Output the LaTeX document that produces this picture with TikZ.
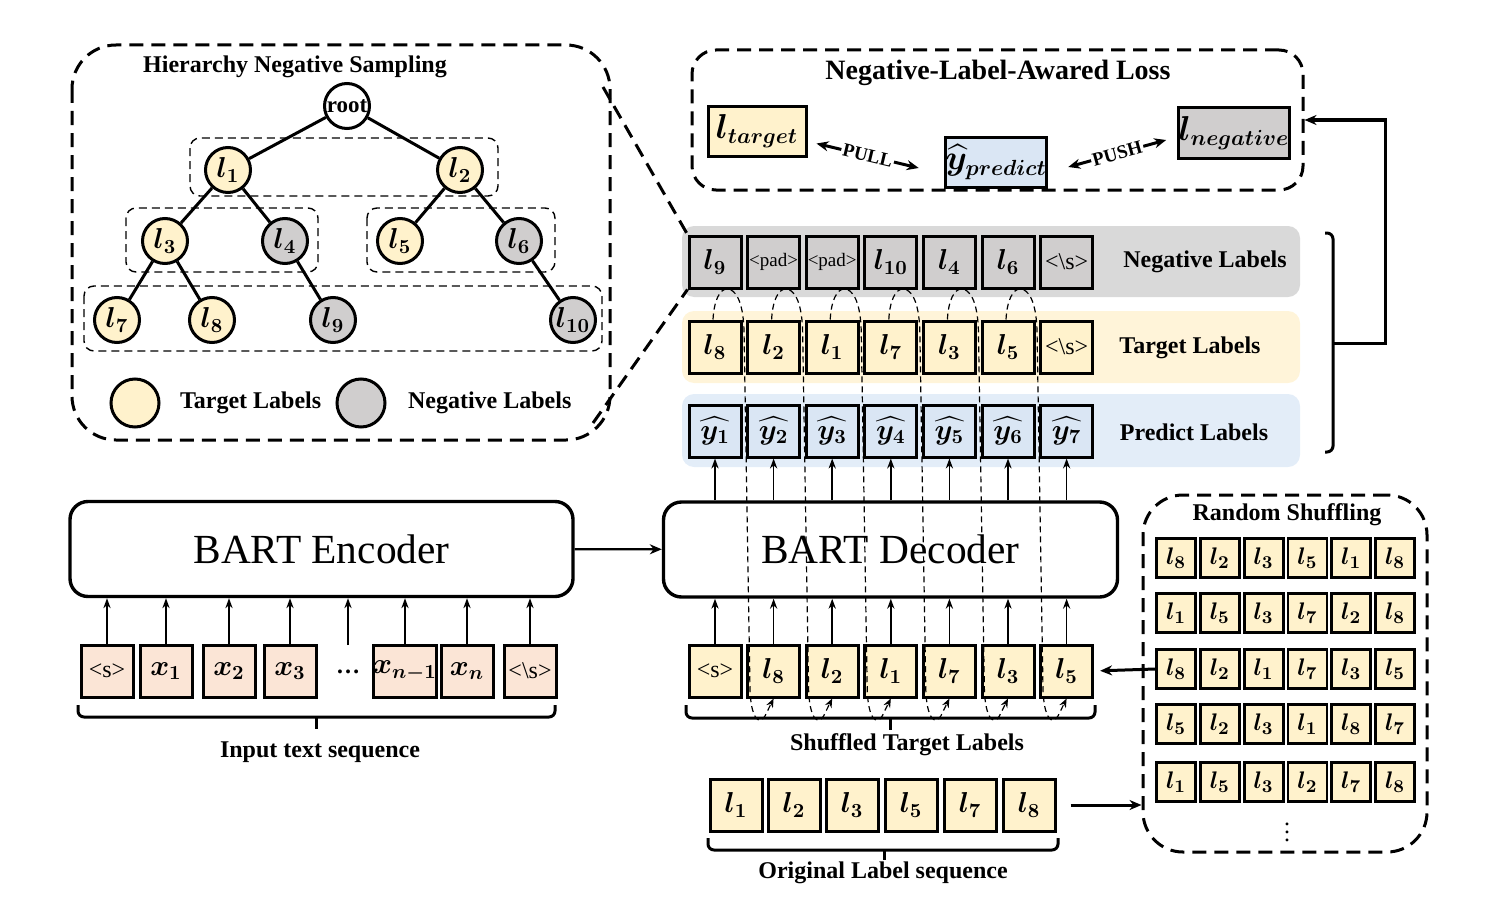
\documentclass[tikz,border=0pt]{standalone}
\usepackage{amsmath}
\usepackage{bm}
\usepackage{fontspec}
\setmainfont{Liberation Serif}
\usetikzlibrary{arrows.meta,calc}
\definecolor{tyel}{HTML}{FFF2CC}
\definecolor{tyelband}{HTML}{FFF4D9}
\definecolor{ngray}{HTML}{D0CECE}
\definecolor{ngrayband}{HTML}{D9D9D9}
\definecolor{pblue}{HTML}{DAE6F4}
\definecolor{pblueband}{HTML}{E3EDF8}
\definecolor{epink}{HTML}{FBE5D6}
\newcommand\lbl[1]{$\bm{l_{#1}}$}
\newcommand\yh[1]{$\widehat{\bm{y_{#1}}}$}
\newcommand\padt{{\fontsize{9.5}{11}\selectfont\textless pad\textgreater}}
\newcommand\eostok{{\fontsize{12}{14}\selectfont\textless\textbackslash s\textgreater}}
\newcommand\bostok{{\fontsize{12}{14}\selectfont\textless s\textgreater}}
\tikzset{
 lbox/.style={draw, line width=1.5pt, minimum width=26pt, minimum height=26pt, inner sep=0pt, font=\fontsize{14}{16}\selectfont},
 tbox/.style={lbox, fill=tyel},
 nbox/.style={lbox, fill=ngray},
 pbox/.style={lbox, fill=pblue},
 ebox/.style={lbox, fill=epink},
 sbox/.style={lbox, fill=tyel, line width=1.4pt, minimum width=19.5pt, minimum height=19.5pt, font=\fontsize{12.5}{14}\selectfont},
 tnode/.style={circle, draw, line width=1.5pt, minimum size=22.5pt, inner sep=0pt, font=\fontsize{14}{16}\selectfont},
 bigdash/.style={draw, line width=1.5pt, dash pattern=on 7pt off 4pt},
 grpdash/.style={draw, line width=0.7pt, dash pattern=on 4pt off 2.5pt, rounded corners=5pt},
 arcdash/.style={line width=0.6pt, dash pattern=on 3pt off 2pt},
 uparr/.style={-{Stealth[length=5pt,width=3.6pt]}, line width=0.8pt},
 lab/.style={font=\fontsize{12}{14}\selectfont\bfseries},
 coder/.style={draw, line width=1.7pt, rounded corners=9pt, font=\fontsize{20.7}{24}\selectfont},
 edge/.style={line width=1.5pt},
 brc/.style={line width=1.5pt, rounded corners=3pt},
}
\begin{document}
\begin{tikzpicture}[x=0.5pt,y=-0.5pt]
\useasboundingbox (0,0) rectangle (1508,904);

% ---------------- Hierarchy negative sampling ----------------
\draw[bigdash, rounded corners=22pt] (72,45) rectangle (610,440);
\node[lab] (htitle) at (295,67) {Hierarchy Negative Sampling};
\draw[grpdash] (190,138) rectangle (498,196);
\draw[grpdash] (126,208) rectangle (318,272);
\draw[grpdash] (367,208) rectangle (555,272);
\draw[grpdash] (84,286) rectangle (602,351);
\node[tnode, fill=white, font=\fontsize{11.5}{13}\selectfont\bfseries] (root) at (347,106) {root};
\node[tnode, fill=tyel] (a1) at (228,170) {\lbl{1}};
\node[tnode, fill=tyel] (a2) at (460,170) {\lbl{2}};
\node[tnode, fill=tyel] (a3) at (165,241) {\lbl{3}};
\node[tnode, fill=ngray] (a4) at (285,241) {\lbl{4}};
\node[tnode, fill=tyel] (a5) at (400,241) {\lbl{5}};
\node[tnode, fill=ngray] (a6) at (519,241) {\lbl{6}};
\node[tnode, fill=tyel] (a7) at (117,320) {\lbl{7}};
\node[tnode, fill=tyel] (a8) at (212,320) {\lbl{8}};
\node[tnode, fill=ngray] (a9) at (333,320) {\lbl{9}};
\node[tnode, fill=ngray] (a10) at (573,320) {\lbl{10}};
\draw[edge] (root) -- (a1);
\draw[edge] (root) -- (a2);
\draw[edge] (a1) -- (a3);
\draw[edge] (a1) -- (a4);
\draw[edge] (a2) -- (a5);
\draw[edge] (a2) -- (a6);
\draw[edge] (a3) -- (a7);
\draw[edge] (a3) -- (a8);
\draw[edge] (a4) -- (a9);
\draw[edge] (a6) -- (a10);
\node[tnode, fill=tyel, minimum size=24pt] (legt) at (135,403) {};
\node[lab, anchor=west] (legtt) at (173,403) {Target Labels};
\node[tnode, fill=ngray, minimum size=24pt] (legn) at (361,403) {};
\node[lab, anchor=west] (legnt) at (401,403) {Negative Labels};

% ---------------- Loss box ----------------
\node[bigdash, rounded corners=12pt, minimum width=305.5pt, minimum height=70pt] (loss) at (997.5,120) {};
\node[font=\fontsize{14}{16}\selectfont\bfseries] (ltitle) at (998,73) {Negative-Label-Awared Loss};
\node[lbox, fill=tyel, minimum width=49pt, minimum height=24.5pt, font=\fontsize{16}{18}\selectfont] (lt) at (757,131.5) {$\bm{l_{target}}$};
\node[lbox, fill=pblue, minimum width=50pt, minimum height=25pt, font=\fontsize{16}{18}\selectfont] (yp) at (996,162) {$\widehat{\bm{y}}_{\bm{predict}}$};
\node[lbox, fill=ngray, minimum width=50pt, minimum height=25pt, font=\fontsize{16}{18}\selectfont] (ln) at (1234,133) {$\bm{l_{negative}}$};
\draw[{Stealth[length=6pt,width=5pt]}-{Stealth[length=6pt,width=5pt]}, line width=1.5pt] ($(lt.east)+(9,12)$) -- ($(yp.west)+(-25,6)$) node[midway, sloped, fill=white, inner sep=0.8pt, font=\fontsize{9.5}{11}\selectfont\bfseries] {PULL};
\draw[{Stealth[length=6pt,width=5pt]}-{Stealth[length=6pt,width=5pt]}, line width=1.5pt] ($(yp.east)+(20,5)$) -- ($(ln.west)+(-11,7)$) node[midway, sloped, fill=white, inner sep=0.8pt, font=\fontsize{9.5}{11}\selectfont\bfseries] {PUSH};

% ---------------- Label rows ----------------
\fill[ngrayband, rounded corners=6pt] (682,226) rectangle (1300,297);
\fill[tyelband, rounded corners=6pt] (682,311) rectangle (1300,383);
\fill[pblueband, rounded corners=6pt] (682,394) rectangle (1300,467);
\foreach \i/\t in {0/{\lbl{9}},1/{\padt},2/{\padt},3/{\lbl{10}},4/{\lbl{4}},5/{\lbl{6}},6/{\eostok}}{
  \pgfmathsetmacro\xc{715+58.6*\i}
  \node[nbox] (n\i) at (\xc,262) {\t};
}
\foreach \i/\t in {0/{\lbl{8}},1/{\lbl{2}},2/{\lbl{1}},3/{\lbl{7}},4/{\lbl{3}},5/{\lbl{5}},6/{\eostok}}{
  \pgfmathsetmacro\xc{715+58.6*\i}
  \node[tbox] (t\i) at (\xc,347) {\t};
}
\foreach \i in {0,...,6}{
  \pgfmathsetmacro\xc{715+58.6*\i}
  \pgfmathtruncatemacro\k{\i+1}
  \node[pbox] (p\i) at (\xc,431) {\yh{\k}};
}
\node[lab] (nlab) at (1205,262) {Negative Labels};
\node[lab] (tlab) at (1190,348) {Target Labels};
\node[lab] (plab) at (1194,432) {Predict Labels};

% bracket and feedback arrow
\draw[brc] (1325,233) -- (1333,233) -- (1333,452) -- (1325,452);
\coordinate (bm) at (1333,343);
\draw[line width=1.5pt, -{Stealth[length=6pt,width=5pt]}] (bm) -- ++(52,0) |- (loss.east);

% zoom lines from tree box to negative row
\draw[bigdash] (603,87) -- (n0.north west);
\draw[bigdash] (593,423) -- (n0.south west);

% ---------------- Encoder / Decoder ----------------
\node[coder, minimum width=251.5pt, minimum height=47.5pt] (enc) at (321.5,549) {BART Encoder};
\node[coder, minimum width=227pt, minimum height=47.5pt] (dec) at (890.5,549.5) {BART Decoder};
\draw[line width=1.2pt, -{Stealth[length=6pt,width=5pt]}] (enc) -- (dec);

% encoder inputs
\foreach \n/\xx/\t in {e1/107/{\bostok},e2/166/{$\bm{x_1}$},e3/229/{$\bm{x_2}$},e4/290/{$\bm{x_3}$},e5/405/{$\bm{x_{n-1}}$},e6/467/{$\bm{x_n}$},e7/530/{\eostok}}{
  \node[ebox] (\n) at (\xx,671) {\t};
  \draw[uparr] (\n.north) -- (\n.north |- enc.south);
}
\node[font=\fontsize{12}{14}\selectfont\bfseries] (edots) at (348,672) {\ldots};
\coordinate (dd) at (348,645);
\draw[uparr] (dd) -- (dd |- enc.south);
\draw[brc] (78,705) -- (78,717) -- (555,717) -- (555,705);
\draw[line width=1.5pt] (316.5,717) -- (316.5,729);
\node[lab] (inlab) at (320,752) {Input text sequence};

% decoder inputs (shuffled)
\foreach \i/\t in {0/{\bostok},1/{\lbl{8}},2/{\lbl{2}},3/{\lbl{1}},4/{\lbl{7}},5/{\lbl{3}},6/{\lbl{5}}}{
  \pgfmathsetmacro\xc{715+58.6*\i}
  \node[tbox] (s\i) at (\xc,671) {\t};
  \draw[uparr] (s\i.north) -- (s\i.north |- dec.south);
}
\foreach \i in {0,...,6}{
  \draw[uparr] (p\i.south |- dec.north) -- (p\i.south);
}
\draw[brc] (686,705) -- (686,718) -- (1095,718) -- (1095,705);
\draw[line width=1.5pt] (890,718) -- (890,730);
\node[lab] (shlab) at (907,745) {Shuffled Target Labels};

% dashed loops
\foreach \i in {0,...,5}{
  \pgfmathsetmacro\xc{715+58.6*\i}
  \pgfmathtruncatemacro\j{\i+1}
  \draw[arcdash, -{Stealth[length=4.5pt,width=3.6pt]}] ($(t\i.north)+(-2,0)$) .. controls (\xc-1,300) and (\xc+5,289) .. (\xc+12,289) .. controls (\xc+20,289) and (\xc+28,300) .. (\xc+29,330) -- (\xc+35,690) .. controls (\xc+36,718) and (\xc+44,726) .. (\xc+50,716) -- (s\j.south);
}

% original label sequence
\foreach \n/\xx/\k in {o1/736/1,o2/794/2,o3/852/3,o4/911/5,o5/970/7,o6/1029/8}{
  \node[tbox] (\n) at (\xx,805) {\lbl{\k}};
}
\draw[brc] (708,838) -- (708,850) -- (1058,850) -- (1058,838);
\draw[line width=1.5pt] (884,850) -- (884,860);
\node[lab] (orlab) at (883,873) {Original Label sequence};

% ---------------- Random shuffling ----------------
\node[bigdash, rounded corners=20pt, minimum width=142pt, minimum height=178.5pt] (rs) at (1285,673.5) {};
\node[lab] (rstitle) at (1287,515) {Random Shuffling};
\foreach \r/\yy/\lst in {1/558/{8,2,3,5,1,8},2/613/{1,5,3,7,2,8},3/669/{8,2,1,7,3,5},4/724/{5,2,3,1,8,7},5/782/{1,5,3,2,7,8}}{
  \foreach \v [count=\c] in \lst {
    \pgfmathsetmacro\xc{1176+43.8*(\c-1)}
    \node[sbox] (r\r\c) at (\xc,\yy) {\lbl{\v}};
  }
}
\node[font=\fontsize{12}{14}\selectfont] (vd) at (1287,826) {$\vdots$};
\draw[line width=1.5pt, -{Stealth[length=6pt,width=5pt]}, shorten >=3pt] (r31.west) -- (s6.east);
\coordinate (oa) at ($(o6.east)+(14,0)$);
\draw[line width=1.5pt, -{Stealth[length=6pt,width=5pt]}] (oa) -- (oa -| rs.west);
\end{tikzpicture}
\end{document}
